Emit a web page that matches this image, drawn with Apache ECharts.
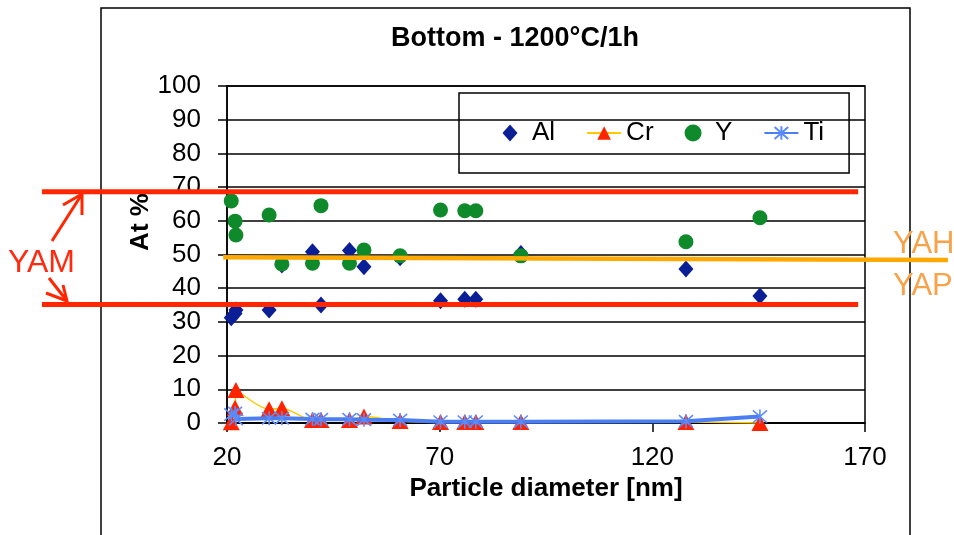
<!DOCTYPE html>
<html><head><meta charset="utf-8">
<script src="https://cdn.jsdelivr.net/npm/echarts@6/dist/echarts.min.js"></script>
<style>html,body{margin:0;padding:0;background:#fff}#c{width:954px;height:535px}</style>
</head><body><div id="c"></div>
<script>
// ---- data ----
const diameters = [21.0, 21.9, 22.1, 29.9, 32.9, 40.1, 42.1, 48.8, 52.2, 60.7, 70.2, 75.9, 78.5, 89.1, 127.9, 145.3];
const alValues  = [31.2, 32.5, 33.5, 33.5, 46.9, 50.8, 35.0, 51.2, 46.4, 49.0, 36.3, 36.7, 36.7, 50.3, 45.7, 37.7];
const crValues  = [0.2, 4.5, 9.8, 4.1, 4.4, 0.9, 0.9, 0.9, 1.9, 0.6, 0.3, 0.3, 0.3, 0.3, 0.3, 0.0];
const yValues   = [65.9, 59.9, 55.8, 61.7, 47.2, 47.4, 64.5, 47.4, 51.3, 49.6, 63.2, 63.0, 63.0, 49.6, 53.8, 60.9];
const tiValues  = [2.5, 3.0, 1.2, 1.4, 1.4, 1.2, 1.1, 1.1, 1.0, 0.9, 0.4, 0.4, 0.4, 0.4, 0.5, 1.9];
const seriesNames = ['Al', 'Cr', 'Y', 'Ti'];
const xAxisRange = [20, 170, 50];
const yAxisRange = [0, 100, 10];
// annotation levels (At %)
const yamLevels = [68.6, 35.2];
const yamXRange = [-23.5, 168.4];
const yahLine = [[19.1, 49.2], [189.5, 48.4]];
const titleText = 'Bottom - 1200°C/1h';
const xName = 'Particle diameter [nm]';
const yName = 'At %';

const FONT = 'Liberation Sans, Arial, sans-serif';
const pairs = vals => diameters.map((d, i) => [d, vals[i]]);

const chart = echarts.init(document.getElementById('c'), null, {renderer: 'canvas'});
const starPath = 'path://M5,0L5,10M0.6,0.6L9.4,9.4M9.4,0.6L0.6,9.4';
// diamond legend icon padded to the legend item box so it is not stretched
const diamondLegendIcon = 'path://M0,0L0,0M34,17L34,17M17,0L24.5,8.5L17,17L9.5,8.5Z';

chart.setOption({
  animation: false,
  backgroundColor: '#fff',
  grid: {left: 227, right: 89, top: 86, bottom: 112, show: true, borderColor: '#000', borderWidth: 1.5, backgroundColor: 'transparent'},
  legend: {
    left: 459, top: 93,
    padding: [27, 25, 27, 34],
    borderColor: '#000', borderWidth: 1.5,
    itemWidth: 34, itemHeight: 17, itemGap: 31,
    textStyle: {fontFamily: FONT, fontSize: 26, color: '#000'},
    data: [{name: seriesNames[0], icon: diamondLegendIcon}, seriesNames[1], seriesNames[2], seriesNames[3]]
  },
  xAxis: {
    type: 'value', min: xAxisRange[0], max: xAxisRange[1], interval: xAxisRange[2],
    axisLine: {lineStyle: {color: '#000', width: 1.5}},
    axisTick: {show: true, length: 9, lineStyle: {color: '#000', width: 1.5}},
    splitLine: {show: false},
    axisLabel: {fontFamily: FONT, fontSize: 26, color: '#000', margin: 22},
    name: xName, nameLocation: 'middle', nameGap: 52,
    nameTextStyle: {fontFamily: FONT, fontSize: 26, fontWeight: 'bold', color: '#000'}
  },
  yAxis: {
    type: 'value', min: yAxisRange[0], max: yAxisRange[1], interval: yAxisRange[2],
    axisLine: {show: true, lineStyle: {color: '#000', width: 1.5}},
    axisTick: {show: true, length: 9, lineStyle: {color: '#000', width: 1.5}},
    splitLine: {show: true, lineStyle: {color: '#000', width: 1.5}},
    axisLabel: {fontFamily: FONT, fontSize: 26, color: '#000', margin: 26}
  },
  series: [
    {name: 'Al', type: 'scatter', data: pairs(alValues), symbol: 'diamond', symbolSize: [15, 17],
     itemStyle: {color: '#0A1E96', opacity: 1}, clip: false, z: 2},
    {name: 'Cr', type: 'line', data: pairs(crValues), symbol: 'triangle', symbolSize: [17, 16], showAllSymbol: true,
     smooth: 0.3, lineStyle: {color: '#FFC800', width: 1.5}, itemStyle: {color: '#FF2400', borderWidth: 0}, clip: false, z: 3},
    {name: 'Y', type: 'scatter', data: pairs(yValues), symbol: 'circle', symbolSize: 15,
     itemStyle: {color: '#0F8A2A', opacity: 1}, clip: false, z: 4},
    {name: 'Ti', type: 'line', data: pairs(tiValues), symbol: starPath, symbolSize: 14, showAllSymbol: true,
     lineStyle: {color: '#4A7EF2', width: 4}, itemStyle: {color: '#5A8CFF', borderColor: '#5A8CFF', borderWidth: 1.6}, clip: false, z: 5}
  ]
});

const px = (x, y) => chart.convertToPixel({gridIndex: 0}, [x, y]);
const graphics = [];
// outer chart-area frame
graphics.push({type: 'rect', z: 0, silent: true, shape: {x: 101, y: 8, width: 809, height: 600},
  style: {fill: null, stroke: '#000', lineWidth: 1.5}});
graphics.push({type: 'text', z: 50, x: 515, y: 39,
  style: {text: titleText, font: 'bold 27px ' + FONT, fill: '#000', align: 'center', verticalAlign: 'middle'}});
graphics.push({type: 'text', z: 50, x: 141, y: 222, rotation: Math.PI / 2,
  style: {text: yName, font: 'bold 26px ' + FONT, fill: '#000', align: 'center', verticalAlign: 'middle'}});
// YAM red lines
yamLevels.forEach(v => {
  const a = px(yamXRange[0], v), b = px(yamXRange[1], v);
  graphics.push({type: 'line', z: 60, shape: {x1: a[0], y1: a[1], x2: b[0], y2: b[1]},
    style: {stroke: '#FF2600', lineWidth: 5}});
});
// YAH/YAP orange line
{
  const a = px(yahLine[0][0], yahLine[0][1]), b = px(yahLine[1][0], yahLine[1][1]);
  graphics.push({type: 'line', z: 60, shape: {x1: a[0], y1: a[1], x2: b[0], y2: b[1]},
    style: {stroke: '#FFA800', lineWidth: 4.5}});
}
// arrows
const arrowStyle = {stroke: '#FF2600', lineWidth: 3, fill: null};
graphics.push({type: 'polyline', z: 60, shape: {points: [[52, 241], [82, 194]]}, style: arrowStyle});
graphics.push({type: 'polyline', z: 60, shape: {points: [[63, 205], [82, 194], [82, 215]]}, style: arrowStyle});
graphics.push({type: 'polyline', z: 60, shape: {points: [[49, 278], [67, 301]]}, style: arrowStyle});
graphics.push({type: 'polyline', z: 60, shape: {points: [[63, 285], [67, 301], [46, 293]]}, style: arrowStyle});
// labels
graphics.push({type: 'text', z: 60, x: 8, y: 263,
  style: {text: 'YAM', font: '32px ' + FONT, fill: '#FF2A10', align: 'left', verticalAlign: 'middle'}});
graphics.push({type: 'text', z: 60, x: 893, y: 244,
  style: {text: 'YAH', font: '31px ' + FONT, fill: '#F8A24A', align: 'left', verticalAlign: 'middle'}});
graphics.push({type: 'text', z: 60, x: 893, y: 286,
  style: {text: 'YAP', font: '31px ' + FONT, fill: '#F8A24A', align: 'left', verticalAlign: 'middle'}});
chart.setOption({graphic: graphics});
</script>
</body></html>
